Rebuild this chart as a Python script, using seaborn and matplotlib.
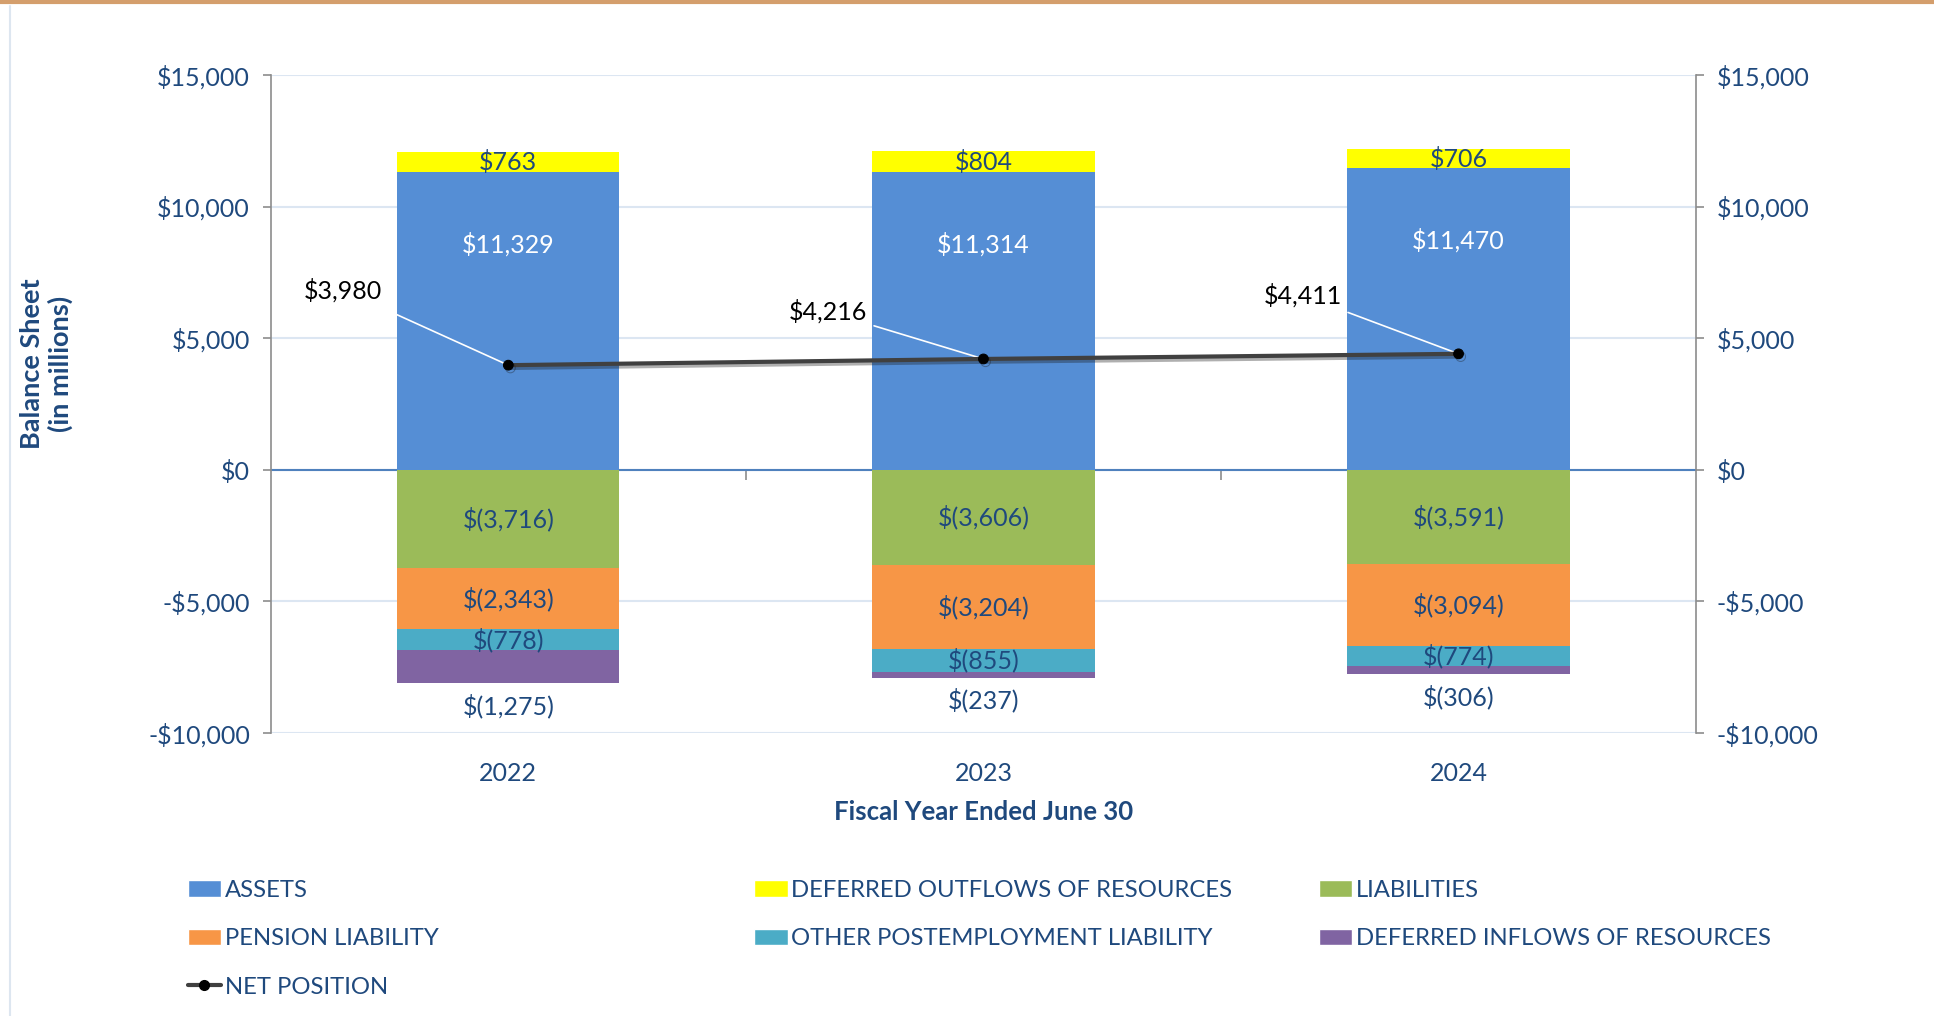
import numpy as np
import pandas as pd
import seaborn as sns
import matplotlib.pyplot as plt
import matplotlib.patheffects as pe
from matplotlib.ticker import FuncFormatter, MultipleLocator
from matplotlib.patches import Patch
from matplotlib.lines import Line2D

# Balance sheet data (in millions)
years = ["2022", "2023", "2024"]
assets = [11329, 11314, 11470]
deferred_out = [763, 804, 706]
liabilities = [-3716, -3606, -3591]
pension = [-2343, -3204, -3094]
opeb = [-778, -855, -774]
deferred_in = [-1275, -237, -306]
net_position = [3980, 4216, 4411]

df = pd.DataFrame({"year": years, "assets": assets, "def_out": deferred_out,
                   "liab": liabilities, "pension": pension, "opeb": opeb,
                   "def_in": deferred_in, "net": net_position})

NAVY = "#1F497D"
GRAY = "#8C8C8C"
C_ASSETS = "#558ED5"
C_DEFOUT = "#FFFF00"
C_LIAB = "#9BBB59"
C_PENSION = "#F79646"
C_OPEB = "#4BACC6"
C_DEFIN = "#8064A2"
C_NET = "#404040"

sns.set_theme(style="white")
plt.rcParams["font.family"] = ["Lato", "DejaVu Sans"]

fig = plt.figure(figsize=(19.34, 10.16), dpi=100)
ax = fig.add_axes([0.140, 0.2785, 0.737, 0.6475])
ymin, ymax = -10000, 15000

# stacked bars drawn as cumulative totals, back to front
neg1 = df.liab
neg2 = neg1 + df.pension
neg3 = neg2 + df.opeb
neg4 = neg3 + df.def_in
layers = [
    (df.assets + df.def_out, C_DEFOUT),
    (df.assets, C_ASSETS),
    (neg4, C_DEFIN),
    (neg3, C_OPEB),
    (neg2, C_PENSION),
    (neg1, C_LIAB),
]
for vals, col in layers:
    sns.barplot(x=df.year, y=vals, color=col, width=0.468, saturation=1,
                errorbar=None, linewidth=0, ax=ax, zorder=2)

ax.set_xlim(-0.5, len(years) - 0.5)
ax.set_ylim(ymin, ymax)
ax.yaxis.set_major_locator(MultipleLocator(5000))
money = FuncFormatter(lambda v, p: f"${v:,.0f}" if v >= 0 else f"-${-v:,.0f}")
ax.yaxis.set_major_formatter(money)
ax.yaxis.grid(True, color="#DCE6F2", lw=1.5)
ax.set_axisbelow(True)
ax.axhline(0, color="#4F81BD", lw=1.5, zorder=1)

for s in ["top", "bottom", "right"]:
    ax.spines[s].set_visible(False)
ax.spines["left"].set_color(GRAY)
ax.spines["left"].set_linewidth(1.2)
ax.tick_params(axis="y", which="major", left=True, direction="out", length=6,
               width=1.2, color=GRAY, labelsize=18, labelcolor=NAVY, pad=9)
ax.tick_params(axis="x", length=0, labelsize=18, labelcolor=NAVY, pad=21)
ax.set_xlabel("Fiscal Year Ended June 30", fontsize=18.5, fontweight="bold",
              color=NAVY, labelpad=11)
ax.set_ylabel("")

# category axis drawn along zero with ticks between categories
sec = ax.secondary_xaxis((0 - ymin) / (ymax - ymin))
sec.set_xticks(np.arange(len(years) - 1) + 0.5)
sec.set_xticklabels([])
sec.tick_params(direction="out", length=7, width=1.2, color=GRAY)
for s in sec.spines.values():
    s.set_color(GRAY)
    s.set_linewidth(1.2)

# segment labels
lbl = dict(ha="center", va="center", fontsize=18, color=NAVY, zorder=5)
neg_fmt = lambda v: f"$({-v:,.0f})"
for i, r in df.iterrows():
    ax.annotate(f"${r.assets:,.0f}", (i, r.assets), xytext=(0, -52),
                textcoords="offset points", **{**lbl, "color": "white"})
    ax.text(i, r.assets + r.def_out / 2, f"${r.def_out:,.0f}", **lbl)
    ax.text(i, r.liab / 2, neg_fmt(r.liab), **lbl)
    ax.text(i, r.liab + r.pension / 2, neg_fmt(r.pension), **lbl)
    ax.text(i, r.liab + r.pension + r.opeb / 2, neg_fmt(r.opeb), **lbl)
    ax.annotate(neg_fmt(r.def_in), (i, neg4[i]), xytext=(0, -16),
                textcoords="offset points", **lbl)

# net position on secondary axis
ax2 = ax.twinx()
sns.lineplot(x=np.arange(len(years)), y=df.net, ax=ax2, color=C_NET, lw=3,
             marker="o", markersize=7, markerfacecolor="black",
             markeredgecolor="black", zorder=6,
             path_effects=[pe.SimpleLineShadow(offset=(1.5, -2), alpha=0.35),
                           pe.Normal()])
ax2.set_ylim(ymin, ymax)
ax2.set_xlim(-0.5, len(years) - 0.5)
ax2.yaxis.set_major_locator(MultipleLocator(5000))
ax2.yaxis.set_major_formatter(money)
ax2.set_ylabel("")
for s in ["top", "bottom", "left"]:
    ax2.spines[s].set_visible(False)
ax2.spines["right"].set_color(GRAY)
ax2.spines["right"].set_linewidth(1.2)
ax2.tick_params(axis="y", right=True, direction="out", length=6, width=1.2,
                color=GRAY, labelsize=18, labelcolor=NAVY, pad=9)
ax2.grid(False)

net_offsets = [(-91, 54), (-84, 34), (-84, 42)]
for i, v in enumerate(df.net):
    ax2.annotate(f"${v:,.0f}", (i, v), xytext=net_offsets[i],
                 textcoords="offset points", ha="right", va="center",
                 fontsize=18, color="black",
                 arrowprops=dict(arrowstyle="-", color="white", lw=1.2,
                                 shrinkA=3, shrinkB=0))

fig.text(0.024, 0.642, "Balance Sheet\n(in millions)", rotation=90,
         ha="center", va="center", fontsize=19.5, fontweight="bold",
         color=NAVY, linespacing=1.15)

# legend in three equal-width columns
h = {
    "ASSETS": Patch(facecolor=C_ASSETS),
    "DEFERRED OUTFLOWS OF RESOURCES": Patch(facecolor=C_DEFOUT),
    "LIABILITIES": Patch(facecolor=C_LIAB),
    "PENSION LIABILITY": Patch(facecolor=C_PENSION),
    "OTHER POSTEMPLOYMENT LIABILITY": Patch(facecolor=C_OPEB),
    "DEFERRED INFLOWS OF RESOURCES": Patch(facecolor=C_DEFIN),
    "NET POSITION": Line2D([], [], color=C_NET, lw=3, marker="o", ms=7,
                           mfc="black", mec="black"),
}
columns = [["ASSETS", "PENSION LIABILITY", "NET POSITION"],
           ["DEFERRED OUTFLOWS OF RESOURCES", "OTHER POSTEMPLOYMENT LIABILITY"],
           ["LIABILITIES", "DEFERRED INFLOWS OF RESOURCES"]]
col_x = [0.097, 0.390, 0.682]
for x, names in zip(col_x, columns):
    fig.legend([h[n] for n in names], names, loc="upper left",
               bbox_to_anchor=(x, 0.134), frameon=False, fontsize=17.2,
               labelcolor=NAVY, handlelength=1.4, handleheight=0.7,
               handletextpad=0.15, labelspacing=1.15, borderpad=0,
               borderaxespad=0)

# page borders
fig.add_artist(Line2D([0, 1], [0.998, 0.998], transform=fig.transFigure,
                      color="#D49E6C", lw=3))
fig.add_artist(Line2D([0.005, 0.005], [0, 0.994], transform=fig.transFigure,
                      color="#DDE6F0", lw=1.5))

fig.savefig("out.png", dpi=100, facecolor="white")
